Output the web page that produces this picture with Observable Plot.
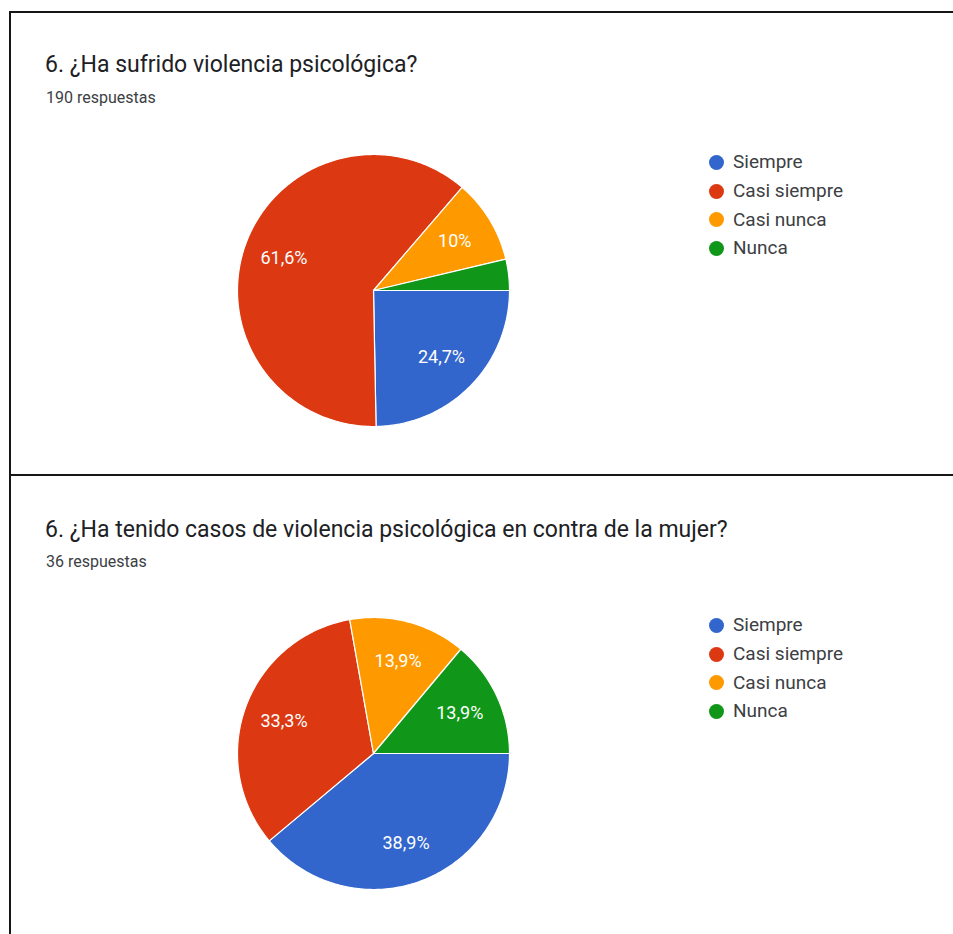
<!DOCTYPE html>
<html>
<head>
<meta charset="utf-8">
<script src="https://cdn.jsdelivr.net/npm/d3@7"></script>
<script src="https://cdn.jsdelivr.net/npm/@observablehq/plot@0.6"></script>
<style>
  html, body { margin: 0; padding: 0; background: #fff; }
  #page { position: relative; width: 953px; height: 934px; overflow: hidden; font-family: Roboto, Arial, sans-serif; }
  .hline { position: absolute; left: 9px; right: 0; height: 2px; background: #161616; }
  .vline { position: absolute; left: 9px; top: 11px; bottom: 0; width: 2px; background: #161616; }
  .title { position: absolute; left: 45px; font-size: 23px; line-height: 23px; color: #202124; white-space: nowrap; }
  .sub { position: absolute; left: 46px; font-size: 16px; line-height: 16px; color: #3c4043; white-space: nowrap; }
  .pie { position: absolute; }
  .legend { position: absolute; left: 709px; font-size: 19px; color: #3c4043; }
  .legend div { height: 28.8px; line-height: 28.8px; display: flex; align-items: center; white-space: nowrap; }
  .legend span.sw { display: inline-block; width: 15px; height: 15px; border-radius: 50%; margin-right: 9px; }
</style>
</head>
<body>
<div id="page">
  <div class="hline" style="top:11px"></div>
  <div class="hline" style="top:474px"></div>
  <div class="vline"></div>
</div>
<script>
const categories = ["Siempre", "Casi siempre", "Casi nunca", "Nunca"];
const colors = ["#3366cc", "#dc3912", "#ff9900", "#109618"];

const title1 = "6. ¿Ha sufrido violencia psicológica?";
const subtitle1 = "190 respuestas";
const pct1 = [24.7, 61.6, 10, 3.7];

const title2 = "6. ¿Ha tenido casos de violencia psicológica en contra de la mujer?";
const subtitle2 = "36 respuestas";
const pct2 = [38.9, 33.3, 13.9, 13.9];

const page = document.getElementById("page");

function fmt(v) { return String(v).replace(".", ",") + "%"; }

function piePlot(pct) {
  const arcs = d3.pie().sort(null).startAngle(Math.PI / 2).endAngle(Math.PI / 2 + 2 * Math.PI)(pct);
  const pts = [];
  const labels = [];
  arcs.forEach((a, i) => {
    const key = categories[i];
    pts.push({key, x: 0, y: 0});
    const n = Math.max(2, Math.ceil((a.endAngle - a.startAngle) / (Math.PI / 180)));
    for (let k = 0; k <= n; k++) {
      const t = a.startAngle + (a.endAngle - a.startAngle) * k / n;
      pts.push({key, x: Math.sin(t), y: Math.cos(t)});
    }
    if (pct[i] >= 5) {
      const m = (a.startAngle + a.endAngle) / 2;
      labels.push({x: 0.7 * Math.sin(m), y: 0.7 * Math.cos(m), text: fmt(pct[i])});
    }
  });
  return Plot.plot({
    width: 280, height: 280,
    marginTop: 4, marginBottom: 4, marginLeft: 4, marginRight: 4,
    x: {domain: [-1, 1], axis: null},
    y: {domain: [-1, 1], axis: null},
    color: {domain: categories, range: colors},
    style: {background: "transparent", fontFamily: "Roboto, Arial, sans-serif"},
    marks: [
      Plot.line(pts, {x: "x", y: "y", z: "key", fill: "key", stroke: "white", strokeWidth: 1.2, curve: "linear-closed"}),
      Plot.text(labels, {x: "x", y: "y", text: "text", fill: "white", fontSize: 18})
    ]
  });
}

function panel(title, sub, pct, titleTop, subTop, pieTop, legendTop) {
  const t = document.createElement("div");
  t.className = "title"; t.style.top = titleTop + "px"; t.textContent = title;
  page.appendChild(t);
  const s = document.createElement("div");
  s.className = "sub"; s.style.top = subTop + "px"; s.textContent = sub;
  page.appendChild(s);
  const p = piePlot(pct);
  const w = document.createElement("div");
  w.className = "pie"; w.style.left = "233px"; w.style.top = pieTop + "px";
  w.appendChild(p);
  page.appendChild(w);
  const lg = document.createElement("div");
  lg.className = "legend"; lg.style.top = legendTop + "px";
  categories.forEach((c, i) => {
    const row = document.createElement("div");
    const sw = document.createElement("span");
    sw.className = "sw"; sw.style.background = colors[i];
    row.appendChild(sw);
    row.appendChild(document.createTextNode(c));
    lg.appendChild(row);
  });
  page.appendChild(lg);
}

panel(title1, subtitle1, pct1, 53, 90, 150, 148);
panel(title2, subtitle2, pct2, 518, 554, 613, 611);
</script>
</body>
</html>
